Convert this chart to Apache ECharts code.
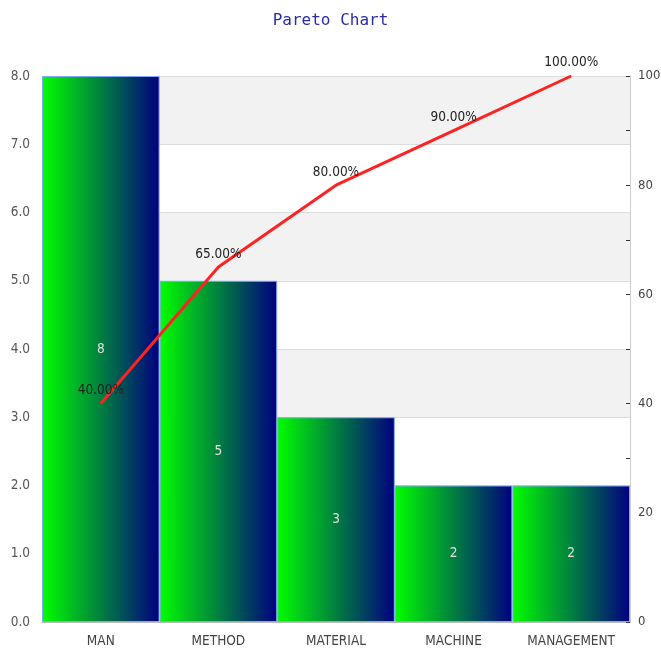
<!DOCTYPE html>
<html><head><meta charset="utf-8">
<script src="https://cdn.jsdelivr.net/npm/echarts@6/dist/echarts.min.js"></script>
<style>html,body{margin:0;padding:0;background:#fff}#c{width:661px;height:657px}</style>
</head><body><div id="c"></div>
<script>
var categories = ['MAN', 'METHOD', 'MATERIAL', 'MACHINE', 'MANAGEMENT'];
var counts = [8, 5, 3, 2, 2];
var cumulativePct = [40, 65, 80, 90, 100];

var FONT = 'DejaVu Sans Condensed, DejaVu Sans';
var chart = echarts.init(document.getElementById('c'));
chart.setOption({
  backgroundColor: '#fff',
  animation: false,
  title: {
    text: 'Pareto Chart', left: 'center', top: 8,
    textStyle: { fontFamily: 'DejaVu Sans Mono', fontSize: 16, fontWeight: 'normal', color: '#2b2ba8' }
  },
  grid: { left: 42, right: 31, top: 76, bottom: 35, containLabel: false, outerBoundsMode: 'none' },
  xAxis: {
    type: 'category', data: categories,
    axisLine: { show: true, lineStyle: { color: '#bbb' } },
    axisTick: { show: false },
    axisLabel: { fontFamily: FONT, fontSize: 13.5, color: '#444', margin: 12 }
  },
  yAxis: [{
    type: 'value', min: 0, max: 8, interval: 1,
    axisLine: { show: false }, axisTick: { show: false },
    axisLabel: { fontFamily: FONT, fontSize: 13.5, color: '#555', margin: 12,
      formatter: function (v) { return v.toFixed(1); } },
    splitLine: { show: true, lineStyle: { color: '#dcdcdc' } },
    splitArea: { show: true, areaStyle: { color: ['#ffffff', '#f2f2f2'] } }
  }, {
    type: 'value', min: 0, max: 100, interval: 20, position: 'right',
    axisLine: { show: true, lineStyle: { color: '#ccc' } },
    axisTick: { show: true, inside: true, length: 4, lineStyle: { color: '#333' } },
    minorTick: { show: true, splitNumber: 2, length: 4, lineStyle: { color: '#333' } },
    axisLabel: { fontFamily: FONT, fontSize: 13, color: '#444', margin: 8 },
    splitLine: { show: false }
  }],
  series: [{
    type: 'bar', data: counts, barCategoryGap: 0, barGap: 0,
    itemStyle: {
      color: new echarts.graphic.LinearGradient(0, 0, 1, 0, [
        { offset: 0, color: '#00ff00' }, { offset: 1, color: '#000080' }
      ]),
      borderColor: '#7fa8f8', borderWidth: 1
    },
    label: { show: true, position: 'inside', color: '#e0e0e0', fontFamily: FONT, fontSize: 13.5 }
  }, {
    type: 'line', yAxisIndex: 1, data: cumulativePct, showSymbol: true, symbol: 'circle', symbolSize: 0.1, z: 5,
    itemStyle: { color: '#ff2222' },
    lineStyle: { color: '#ff2222', width: 3 },
    label: { show: true, position: 'top', distance: 6, color: '#222', fontFamily: FONT, fontSize: 13.5,
      formatter: function (p) { return p.value.toFixed(2) + '%'; } }
  }]
});
</script></body></html>
